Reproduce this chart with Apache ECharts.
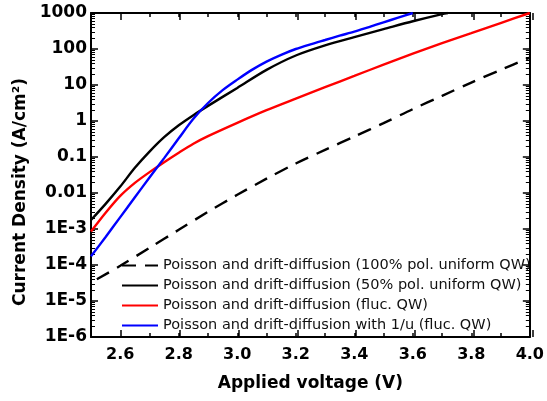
<!DOCTYPE html>
<html>
<head>
<meta charset="utf-8">
<script src="https://cdn.jsdelivr.net/npm/echarts@6/dist/echarts.min.js"></script>
<style>html,body{margin:0;padding:0;background:#fff}#c{width:547px;height:401px}</style>
</head>
<body>
<div id="c"></div>
<script>
// ---- data ----
const seriesNames = [
  'Poisson and drift-diffusion (100% pol. uniform QW)',
  'Poisson and drift-diffusion (50% pol. uniform QW)',
  'Poisson and drift-diffusion (fluc. QW)',
  'Poisson and drift-diffusion with 1/u (fluc. QW)'
];
const vUniform100 = [2.52, 2.6, 2.7, 2.8, 2.9, 3.0, 3.1, 3.2, 3.3, 3.4, 3.5, 3.6, 3.7, 3.8, 3.9, 4.0];
const jUniform100 = [4.0e-5, 9.5e-5, 3.0e-4, 9.5e-4, 3.0e-3, 8.9e-3, 2.5e-2, 6.6e-2, 0.158, 0.37, 0.87, 2.14, 5.0, 11.7, 26.3, 57.5];
const vUniform50 = [2.5, 2.55, 2.6, 2.65, 2.7, 2.75, 2.8, 2.85, 2.9, 3.0, 3.1, 3.2, 3.3, 3.4, 3.5, 3.6, 3.7, 3.72];
const jUniform50 = [1.78e-3, 5.0e-3, 1.51e-2, 5.0e-2, 0.141, 0.355, 0.76, 1.45, 2.63, 8.3, 26.3, 66, 126, 214, 355, 589, 933, 1000];
const vFluc = [2.5, 2.55, 2.6, 2.65, 2.7, 2.75, 2.8, 2.85, 2.9, 3.0, 3.1, 3.2, 3.3, 3.4, 3.5, 3.6, 3.7, 3.8, 3.9, 4.0];
const jFluc = [8.5e-4, 2.82e-3, 8.3e-3, 1.91e-2, 3.8e-2, 7.2e-2, 0.132, 0.234, 0.38, 0.89, 2.0, 4.2, 8.7, 17.8, 37, 74, 145, 275, 525, 1000];
const vInvU = [2.5, 2.55, 2.6, 2.65, 2.7, 2.75, 2.8, 2.85, 2.9, 2.95, 3.0, 3.05, 3.1, 3.15, 3.2, 3.25, 3.3, 3.35, 3.4, 3.45, 3.5, 3.55, 3.6];
const jInvU = [1.74e-4, 6.0e-4, 2.14e-3, 7.6e-3, 2.69e-2, 9.3e-2, 0.331, 1.15, 3.16, 7.2, 14.1, 26.3, 44.7, 69, 100, 135, 178, 234, 302, 407, 550, 741, 1000];
const xTickLabels = ['2.6', '2.8', '3.0', '3.2', '3.4', '3.6', '3.8', '4.0'];
const xMajorTicks = [2.6, 2.8, 3.0, 3.2, 3.4, 3.6, 3.8, 4.0];
const yTickLabels = ['1E-6', '1E-5', '1E-4', '1E-3', '0.01', '0.1', '1', '10', '100', '1000'];

const pairs = (xs, ys) => xs.map((x, i) => [x, ys[i]]);
const FONT = 'DejaVu Sans';
const gridRect = {left: 91, right: 14, top: 13, bottom: 64};

const xMinorBase = (pos) => ({
  type: 'value', gridIndex: 0, position: pos, min: 2.5, max: 4.0, interval: 0.1,
  axisLine: {show: true, onZero: false, lineStyle: {color: '#000', width: 2}},
  axisTick: {show: true, inside: true, length: 4, lineStyle: {color: '#000', width: 1.5}},
  splitLine: {show: false}
});
const xMajorBase = (pos) => ({
  type: 'value', gridIndex: 1, position: pos, min: 2.5, max: 4.0, interval: 0.1,
  axisLine: {show: false, onZero: false},
  axisTick: {show: true, inside: true, length: 7, customValues: xMajorTicks, lineStyle: {color: '#000', width: 1.5}},
  axisLabel: {show: false},
  splitLine: {show: false}
});
const yBase = (pos, grid) => ({
  type: 'log', logBase: 10, gridIndex: grid, position: pos, min: 1e-6, max: 1000,
  axisLine: {show: true, onZero: false, lineStyle: {color: '#000', width: 2}},
  axisTick: {show: true, inside: true, length: 7, lineStyle: {color: '#000', width: 1.5}},
  minorTick: {show: true, splitNumber: 9, length: 4, lineStyle: {color: '#000', width: 1}},
  splitLine: {show: false}, minorSplitLine: {show: false}
});

const xBottom = Object.assign(xMinorBase('bottom'), {
  name: 'Applied voltage (V)', nameLocation: 'middle', nameGap: 38,
  nameTextStyle: {fontFamily: FONT, fontWeight: 'bold', fontSize: 17, color: '#000'},
  axisLabel: {
    show: true, margin: 10, color: '#000', fontFamily: FONT, fontWeight: 'bold', fontSize: 16,
    formatter: v => { const s = v.toFixed(1); return xTickLabels.indexOf(s) >= 0 ? s : ''; }
  }
});
const xTop = Object.assign(xMinorBase('top'), {axisLabel: {show: false}});

const yLeft = Object.assign(yBase('left', 0), {
  name: 'Current Density (A/cm²)', nameLocation: 'middle', nameGap: 51,
  nameTextStyle: {fontFamily: FONT, fontWeight: 'bold', fontSize: 17, color: '#000', padding: [0, 34, 0, 0]},
  axisLabel: {
    show: true, margin: 4, color: '#000', fontFamily: FONT, fontWeight: 'bold', fontSize: 17,
    formatter: v => yTickLabels[Math.round(Math.log10(v)) + 6] || ''
  }
});
const yRight = Object.assign(yBase('right', 0), {axisLabel: {show: false}});
const yHidden = Object.assign(yBase('left', 1), {show: false});

const lineSeries = (name, data, color, type) => ({
  name, type: 'line', xAxisIndex: 0, yAxisIndex: 0, data,
  symbol: 'none', showSymbol: false, smooth: 0.3, clip: true,
  lineStyle: {color, width: 2.4, type},
  itemStyle: {color}
});

const option = {
  animation: false,
  backgroundColor: '#fff',
  textStyle: {fontFamily: FONT},
  grid: [Object.assign({}, gridRect), Object.assign({}, gridRect)],
  xAxis: [xBottom, xTop, xMajorBase('bottom'), xMajorBase('top')],
  yAxis: [yLeft, yRight, yHidden],
  legend: {
    orient: 'vertical', left: 121, top: 258, padding: 0,
    itemWidth: 36, itemHeight: 14, itemGap: 5,
    itemStyle: {opacity: 0},
    textStyle: {fontFamily: FONT, fontSize: 14.5, color: '#111', lineHeight: 14},
    data: seriesNames
  },
  series: [
    lineSeries(seriesNames[0], pairs(vUniform100, jUniform100), '#000000', [14, 9]),
    lineSeries(seriesNames[1], pairs(vUniform50, jUniform50), '#000000', 'solid'),
    lineSeries(seriesNames[2], pairs(vFluc, jFluc), '#ff0000', 'solid'),
    lineSeries(seriesNames[3], pairs(vInvU, jInvU), '#0000ff', 'solid')
  ]
};
echarts.init(document.getElementById('c'), null, {renderer: 'canvas'}).setOption(option);
</script>
</body>
</html>
